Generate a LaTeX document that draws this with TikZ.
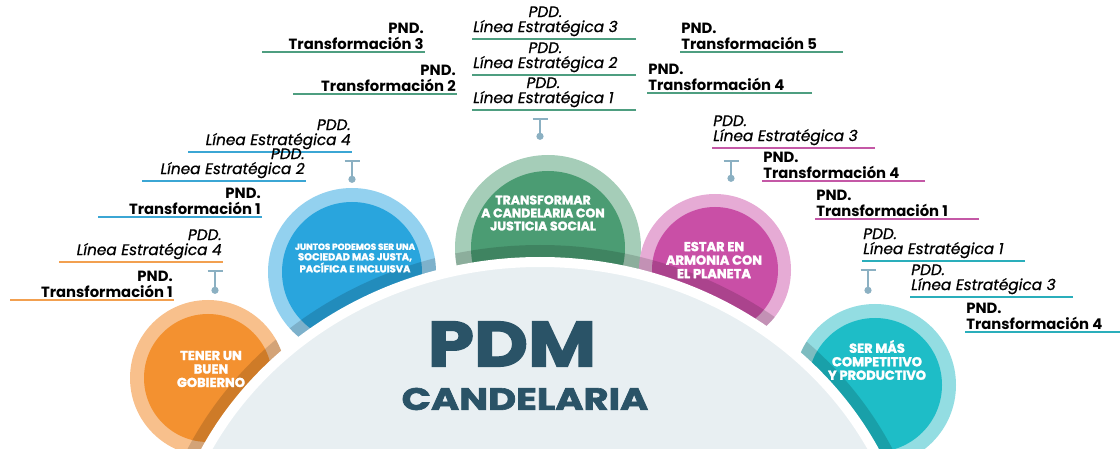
\documentclass[tikz,border=0pt]{standalone}
\usepackage{fontspec}
\setmainfont{Poppins}[ItalicFeatures={FakeBold=0.7}]
\newfontfamily\heavyfont{Poppins}[BoldFeatures={FakeBold=2}]
\usetikzlibrary{arrows.meta}
\definecolor{org}{HTML}{F39130}
\definecolor{orgL}{HTML}{F8C08C}
\definecolor{orgLine}{HTML}{F2A050}
\definecolor{blu}{HTML}{29A5DD}
\definecolor{bluL}{HTML}{93D1EF}
\definecolor{bluLine}{HTML}{3BA6D4}
\definecolor{grn}{HTML}{4B9C73}
\definecolor{grnL}{HTML}{A5CDB8}
\definecolor{grnLine}{HTML}{4E9E80}
\definecolor{mag}{HTML}{C94FA6}
\definecolor{magL}{HTML}{E6ABD5}
\definecolor{magLine}{HTML}{C458A6}
\definecolor{cyn}{HTML}{1EBDC7}
\definecolor{cynL}{HTML}{93DDE2}
\definecolor{cynLine}{HTML}{2AAEBB}
\definecolor{teecol}{HTML}{8BB0C2}
\definecolor{basecol}{HTML}{E8EFF2}
\definecolor{ink}{HTML}{2A5367}
\tikzset{
  pdd/.style={font=\itshape\fontsize{15.3}{15}\selectfont, text=black, inner xsep=0.5pt, inner ysep=2pt},
  pnd/.style={font=\bfseries\fontsize{14.8}{15.5}\selectfont, inner xsep=0.5pt, inner ysep=2pt},
  uline/.style={draw=#1, line width=1.6pt},
  tee/.style={draw=teecol, line width=2.6pt, {Bar[width=15pt,line width=2.6pt]}-{Circle[length=7pt]}},
  disc/.style={circle, inner sep=0pt, fill=#1},
  goal/.style={text=white, font=\heavyfont\bfseries\fontsize{13}{13.5}\selectfont, align=center, inner sep=0pt}
}
\begin{document}
\begin{tikzpicture}[x=1pt, y=-1pt]
	\useasboundingbox (0,0) rectangle (1120,449);
	\clip (0,0) rectangle (1120,449);
	
	\node[disc=orgL, minimum size=156pt] (gob) at (208,378) {};
	\fill[org] (gob.center) circle (64);
	\node[disc=bluL, minimum size=168pt] (soc) at (352,272) {};
	\fill[blu] (soc.center) circle (70);
	\node[disc=grnL, minimum size=186pt] (jus) at (548,248) {};
	\fill[grn] (jus.center) circle (77);
	\node[disc=magL, minimum size=152pt] (pla) at (715,270) {};
	\fill[mag] (pla.center) circle (63);
	\node[disc=cynL, minimum size=162pt] (com) at (875,385) {};
	\fill[cyn] (com.center) circle (67);
	
	\begin{scope}
		\clip (gob.center) circle (78) (soc.center) circle (84) (jus.center) circle (93) (pla.center) circle (76) (com.center) circle (81);
		\draw[black, opacity=0.15, line width=34pt] (540,605) ellipse [x radius=374, y radius=343];
	\end{scope}
	\draw[white, line width=10pt, fill=basecol] (540,605) ellipse [x radius=374, y radius=343];
	
	\node[goal] (gobtxt) at (211,369) {TENER UN\\BUEN\\GOBIERNO};
	\node[goal, font=\heavyfont\bfseries\fontsize{10}{10.5}\selectfont] (soctxt) at (355,258) {{\fontsize{8.8}{10}\selectfont JUNTOS PODEMOS SER UNA}\\SOCIEDAD MAS JUSTA,\\PACÍFICA E INCLUISVA};
	\node[goal, font=\heavyfont\bfseries\fontsize{12.5}{13}\selectfont] (justxt) at (543,213) {TRANSFORMAR\\A CANDELARIA CON\\JUSTICIA SOCIAL};
	\node[goal] (platxt) at (714,260) {ESTAR EN\\ARMONIA CON\\EL PLANETA};
	\node[goal] (comtxt) at (877,360) {SER MÁS\\COMPETITIVO\\Y PRODUCTIVO};
	
	\node[text=ink, font=\heavyfont\bfseries\fontsize{64}{64}\selectfont] (pdm) at (512,344) {\scalebox{1.16}[1]{PDM}};
	\node[text=ink, font=\heavyfont\bfseries\fontsize{31}{31}\selectfont] (cand) at (525,399) {\scalebox{1.24}[1]{CANDELARIA}};
	
	\draw[uline=orgLine] (59,262) -- (223,262) node[pdd, anchor=south east, align=right] (gob1) {PDD.\\Línea Estratégica 4};
	\draw[uline=orgLine] (10,300) -- (174,300) node[pnd, anchor=south east, align=right] (gob2) {PND.\\Transformación 1};
	\draw[tee] ([xshift=7pt,yshift=30pt]gob.north) -- ([xshift=7pt,yshift=6pt]gob.north);
	
	\draw[uline=bluLine] (188,152) -- (352,152) node[pdd, anchor=south east, align=right] (soc1) {PDD.\\Línea Estratégica 4};
	\draw[uline=bluLine] (142,181) -- (306,181) node[pdd, anchor=south east, align=right] (soc2) {PDD.\\Línea Estratégica 2};
	\draw[uline=bluLine] (98,217) -- (262,217) node[pnd, anchor=south east, align=right] (soc3) {PND.\\Transformación 1};
	\draw[tee] ([yshift=28pt]soc.north) -- ([yshift=5pt]soc.north);
	
	\draw[uline=grnLine] (262,52) -- (425,52) node[pnd, anchor=south east, align=right] (jus1) {PND.\\Transformación 3};
	\draw[uline=grnLine] (293,94) -- (457,94) node[pnd, anchor=south east, align=right] (jus2) {PND.\\Transformación 2};
	\draw[uline=grnLine] (636,39) -- (472,39) node[pdd, anchor=south west, align=center] (jus3) {PDD.\\Línea Estratégica 3};
	\draw[uline=grnLine] (636,75) -- (472,75) node[pdd, anchor=south west, align=center] (jus4) {PDD.\\Línea Estratégica 2};
	\draw[uline=grnLine] (636,110) -- (472,110) node[pdd, anchor=south west, align=center] (jus5) {PDD.\\Línea Estratégica 1};
	\draw[uline=grnLine] (843,52) -- (680,52) node[pnd, anchor=south west, align=left] (jus6) {PND.\\Transformación 5};
	\draw[uline=grnLine] (812,93) -- (647,93) node[pnd, anchor=south west, align=left] (jus7) {PND.\\Transformación 4};
	\draw[tee] ([xshift=-8pt,yshift=37pt]jus.north) -- ([xshift=-8pt,yshift=15pt]jus.north);
	
	\draw[uline=magLine] (875,148) -- (712,148) node[pdd, anchor=south west, align=left] (pla1) {PDD.\\Línea Estratégica 3};
	\draw[uline=magLine] (925,181) -- (762,181) node[pnd, anchor=south west, align=left] (pla2) {PND.\\Transformación 4};
	\draw[uline=magLine] (979,219) -- (815,219) node[pnd, anchor=south west, align=left] (pla3) {PND.\\Transformación 1};
	\draw[tee] ([xshift=16pt,yshift=34pt]pla.north) -- ([xshift=16pt,yshift=12pt]pla.north);
	
	\draw[uline=cynLine] (1025,261) -- (862,261) node[pdd, anchor=south west, align=left] (com1) {PDD.\\Línea Estratégica 1};
	\draw[uline=cynLine] (1073,297) -- (910,297) node[pdd, anchor=south west, align=left] (com2) {PDD.\\Línea Estratégica 3};
	\draw[uline=cynLine] (1120,332) -- (965,332) node[pnd, anchor=south west, align=left] (com3) {PND.\\Transformación 4};
	\draw[tee] ([xshift=-7pt,yshift=35pt]com.north) -- ([xshift=-7pt,yshift=10pt]com.north);
\end{tikzpicture}
\end{document}
